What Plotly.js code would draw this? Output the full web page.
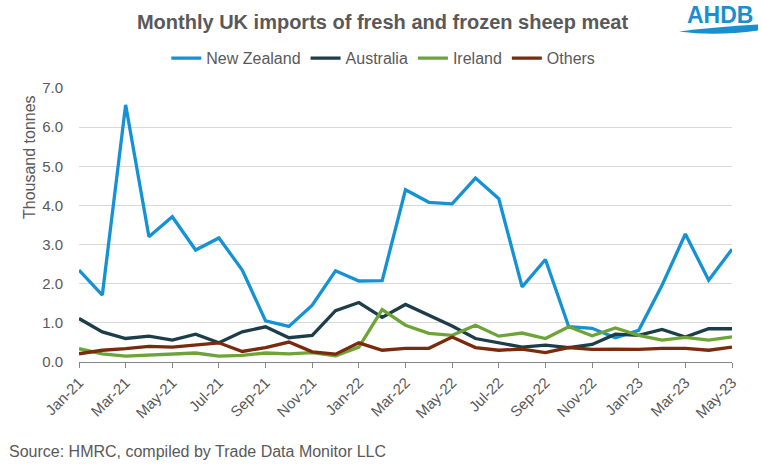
<!DOCTYPE html>
<html>
<head>
<meta charset="utf-8">
<script src="https://cdn.plot.ly/plotly-3.0.1.min.js"></script>
<style>
html,body{margin:0;padding:0;background:#fff;}
#chart{width:762px;height:465px;}
</style>
</head>
<body>
<div id="chart"></div>
<script>
const months = ["Jan-21","Feb-21","Mar-21","Apr-21","May-21","Jun-21","Jul-21","Aug-21","Sep-21","Oct-21","Nov-21","Dec-21",
  "Jan-22","Feb-22","Mar-22","Apr-22","May-22","Jun-22","Jul-22","Aug-22","Sep-22","Oct-22","Nov-22","Dec-22",
  "Jan-23","Feb-23","Mar-23","Apr-23","May-23"];
const newZealand = [2.35,1.71,6.57,3.20,3.71,2.86,3.17,2.35,1.05,0.91,1.45,2.33,2.07,2.08,4.40,4.08,4.04,4.70,4.17,1.92,2.62,0.90,0.86,0.62,0.81,1.96,3.27,2.09,2.88];
const australia  = [1.11,0.77,0.60,0.66,0.56,0.71,0.49,0.77,0.90,0.62,0.68,1.31,1.52,1.14,1.47,1.20,0.92,0.60,0.50,0.38,0.43,0.37,0.45,0.71,0.68,0.83,0.64,0.85,0.85];
const ireland    = [0.34,0.21,0.15,0.17,0.19,0.23,0.15,0.17,0.23,0.21,0.24,0.16,0.38,1.34,0.94,0.73,0.68,0.94,0.66,0.74,0.60,0.90,0.67,0.87,0.68,0.56,0.63,0.56,0.64];
const others     = [0.21,0.30,0.34,0.40,0.38,0.44,0.49,0.27,0.37,0.51,0.26,0.20,0.49,0.30,0.35,0.35,0.64,0.37,0.30,0.33,0.24,0.37,0.32,0.33,0.32,0.35,0.35,0.30,0.38];
const seriesNames = ["New Zealand","Australia","Ireland","Others"];
const seriesColors = ["#1592d3","#1d3d49","#6ca437","#7b2b0d"];
const tickLabels = months.filter((m,i)=>i%2===0);
const yTicks = [0,1,2,3,4,5,6,7];

const allData = [newZealand, australia, ireland, others];
const traces = allData.map((vals,k)=>({
  type:"scatter", mode:"lines", x:months, y:vals, name:seriesNames[k],
  line:{color:seriesColors[k], width:3.3}, hoverinfo:"skip"
}));

const grey = "#595959";
const fam = "Liberation Sans, Arial, sans-serif";
const layout = {
  width:762, height:465,
  margin:{l:79, r:30, t:88, b:103},
  paper_bgcolor:"#fff", plot_bgcolor:"#fff",
  font:{family:fam, color:grey, size:15},
  title:{text:"<b>Monthly UK imports of fresh and frozen sheep meat</b>", x:0.502, xanchor:"center", xref:"container",
         y:0.953, yref:"container", yanchor:"middle", font:{size:20, color:grey, family:fam}},
  showlegend:true,
  legend:{orientation:"h", x:0.503, xanchor:"center", xref:"container", y:0.875, yref:"container", yanchor:"middle",
          font:{size:16, color:grey}, itemwidth:30, tracegroupgap:0, itemclick:false},
  xaxis:{type:"category", range:[0,28], tickmode:"array", tickvals:tickLabels, ticktext:tickLabels,
         tickangle:-45, ticks:"outside", ticklen:5, tickcolor:"#868686", showgrid:false,
         showline:true, linecolor:"#868686", linewidth:1, tickfont:{size:15, color:grey}, zeroline:false, fixedrange:true},
  yaxis:{range:[0,7], tickmode:"array", tickvals:yTicks, tickformat:".1f", showgrid:true, gridcolor:"#d9d9d9", gridwidth:1,
         zeroline:false, showline:false, ticks:"", ticklabelstandoff:15, tickfont:{size:15, color:grey}, fixedrange:true},
  annotations:[
    {text:"Thousand tonnes", xref:"paper", yref:"paper", x:-0.0766, y:0.748, xanchor:"center", yanchor:"middle",
     textangle:-90, showarrow:false, font:{size:16, color:grey}},
    {text:"Source: HMRC, compiled by Trade Data Monitor LLC", xref:"paper", yref:"paper", x:-0.111, y:-0.328,
     xanchor:"left", yanchor:"middle", showarrow:false, font:{size:16, color:grey}},
    {text:"<b>AHDB</b>", xref:"paper", yref:"paper", x:0.9816, y:1.268, xanchor:"center", yanchor:"middle",
     showarrow:false, font:{size:23, color:"#1a8fd0", family:fam}}
  ],
  shapes:[
    {type:"path", xref:"paper", yref:"paper",
     path:"M 0.9188 1.206 Q 0.975 1.224 1.0398 1.232 L 1.0398 1.210 Q 0.975 1.188 0.9188 1.206 Z",
     fillcolor:"#1a8fd0", line:{width:0}}
  ]
};
Plotly.newPlot("chart", traces, layout, {displayModeBar:false, staticPlot:true});
</script>
</body>
</html>
